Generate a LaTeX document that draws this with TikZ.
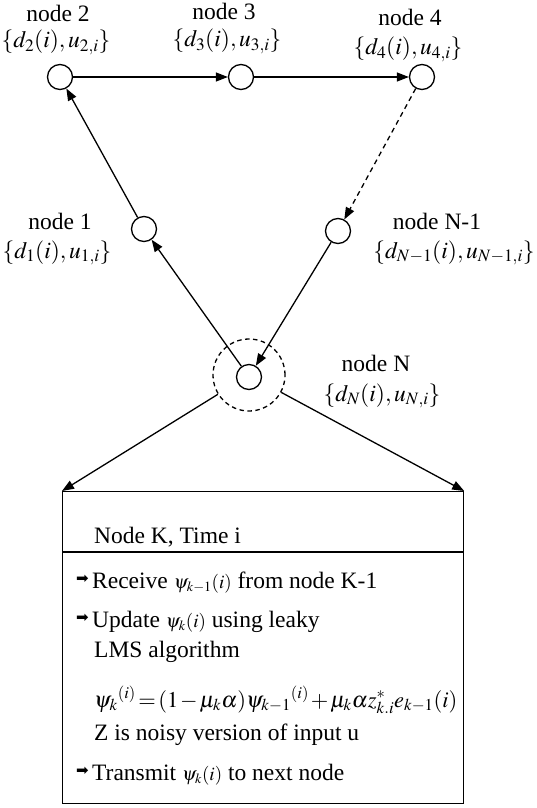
\documentclass[tikz,border=0pt]{standalone}
\usepackage{mathptmx}
\usepackage{fontspec}
\setmainfont{Liberation Serif}
\newfontfamily\dejavu{DejaVu Sans}
\usetikzlibrary{arrows.meta}
\tikzset{
  x=1pt, y=-1pt,
  every node/.style={font=\fontsize{23.5}{28}\selectfont},
  nd/.style={circle, draw, line width=1.3pt, fill=white, minimum size=25pt, inner sep=0pt},
  ring/.style={circle, draw, line width=1.3pt, dash pattern=on 4.5pt off 3.5pt, minimum size=72pt, inner sep=0pt},
  lbl/.style={anchor=base, inner sep=0pt},
  txt/.style={anchor=base west, inner sep=0pt},
  bul/.style={anchor=base west, inner sep=0pt, font=\dejavu\fontsize{15}{16}\selectfont},
  arr/.style={line width=1.3pt, -{Triangle[length=12pt, width=9pt]}},
  dsh/.style={dash pattern=on 5pt off 4pt}
}
\newcommand{\smallmath}[1]{{\fontsize{19}{20}\selectfont$#1$}}
\begin{document}
\begin{tikzpicture}
\useasboundingbox (0,0) rectangle (536,808);
% nodes
\node[nd] (n2) at (60,77) {};
\node[nd] (n3) at (241,77) {};
\node[nd] (n4) at (422,77) {};
\node[nd] (n1) at (144,229) {};
\node[nd] (nN1) at (338,231) {};
\node[ring] (dc) at (249,375) {};
\node[nd] (nN) at (249,377) {};
% labels
\node[lbl] (l2a) at (58,22) {node 2};
\node[lbl] (l2b) at (56,48) {$\{d_2(i),u_{2,i}\}$};
\node[lbl] (l3a) at (224,20) {node 3};
\node[lbl] (l3b) at (227,47) {$\{d_3(i),u_{3,i}\}$};
\node[lbl] (l4a) at (410,26) {node 4};
\node[lbl] (l4b) at (408,55) {$\{d_4(i),u_{4,i}\}$};
\node[lbl] (l1a) at (60,229) {node 1};
\node[lbl] (l1b) at (57,258) {$\{d_1(i),u_{1,i}\}$};
\node[lbl] (lN1a) at (437,229) {node N-1};
\node[lbl] (lN1b) at (454,258) {$\{d_{N-1}(i),u_{N-1,i}\}$};
\node[lbl] (lNa) at (376,371) {node N};
\node[lbl] (lNb) at (382,401) {$\{d_N(i),u_{N,i}\}$};
% box
\node[draw, line width=1.2pt, minimum width=401pt, minimum height=312pt, inner sep=0pt, anchor=north west] (box) at (62,491) {};
\coordinate (sepL) at (62,552);
\coordinate (sepR) at (463,552);
\draw[line width=1.2pt] (sepL) -- (sepR);
% connectors
\draw[arr] (n1) -- (n2);
\draw[arr] (n2) -- (n3);
\draw[arr] (n3) -- (n4);
\draw[arr, dsh] (n4) -- (nN1);
\draw[arr] (nN1) -- (nN);
\draw[arr] (nN) -- (n1);
\draw[arr] (dc) -- (box.north west);
\draw[arr] (dc) -- (box.north east);
% box text
\node[txt] (t0) at (94,543) {Node K, Time i};
\node[bul] (b1) at (76,583) {➡};
\node[txt] (t1) at (92,588) {Receive \smallmath{\psi_{k-1}(i)} from node K-1};
\node[bul] (b2) at (76,622) {➡};
\node[txt] (t2) at (92,627) {Update \smallmath{\psi_k(i)} using leaky};
\node[txt] (t3) at (94,657) {LMS algorithm};
\node[txt, font=\fontsize{22.5}{26}\selectfont] (t4) at (94,707) {$\thickmuskip=2mu\medmuskip=1.5mu{\psi_k}^{(i)}=(1-\mu_k\alpha){\psi_{k-1}}^{(i)}+\mu_k\alpha z^*_{k.i}e_{k-1}(i)$};
\node[txt] (t5) at (94,740) {Z is noisy version of input u};
\node[bul] (b3) at (76,775) {➡};
\node[txt] (t6) at (92,780) {Transmit \smallmath{\psi_k(i)} to next node};
\end{tikzpicture}
\end{document}
